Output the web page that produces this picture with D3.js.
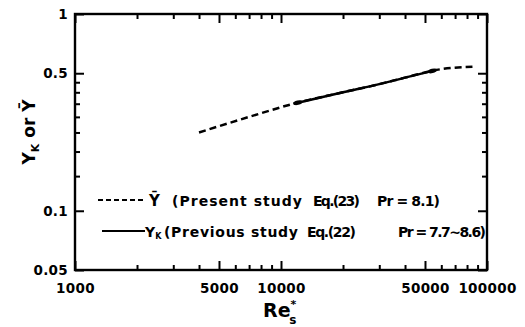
<!DOCTYPE html>
<html>
<head>
<meta charset="utf-8">
<script src="https://cdn.jsdelivr.net/npm/d3@7"></script>
<style>
  body { margin: 0; background: #fff; }
  svg { display: block; }
</style>
</head>
<body>
<svg id="chart" width="525" height="327"></svg>
<script>
// Ȳ, present study Eq.(23), Pr = 8.1
const reYbar = [4000, 7000, 11500, 20000, 30000, 40000, 57000, 85000];
const yBar   = [0.25, 0.30, 0.35, 0.40, 0.44, 0.475, 0.52, 0.54];
// Y_K, previous study Eq.(22), Pr = 7.7~8.6
const reYk = [11500, 20000, 30000, 40000, 57000];
const yK   = [0.35, 0.40, 0.44, 0.475, 0.52];

// axis ticks
const xMajor = [1000, 5000, 10000, 50000, 100000];
const xTickLabels = ["1000", "5000", "10000", "50000", "100000"];
const yMajor = [0.05, 0.1, 0.5, 1];
const yTickLabels = ["0.05", "0.1", "0.5", "1"];

const FONT = "'DejaVu Sans', sans-serif";
const svg = d3.select("#chart");
const L = 75, R = 487, T = 14, B = 270;

const x = d3.scaleLog().domain([1000, 100000]).range([L, R]);
const y = d3.scaleLog().domain([0.05, 1]).range([B, T]);

// every 1..9 multiple within each decade
function logTicks(lo, hi) {
  const out = [];
  for (let p = Math.log10(lo); p < Math.log10(hi) - 1e-9; p++) {
    for (let k = 1; k <= 9; k++) out.push(+(k * Math.pow(10, p)).toPrecision(6));
  }
  out.push(hi);
  return out.filter(v => v >= lo - 1e-12 && v <= hi + 1e-12);
}
const near = (a, b) => Math.abs(a - b) / b < 1e-6;
const xMinor = logTicks(1000, 100000).filter(v => !xMajor.some(m => near(v, m)));
const yMinor = logTicks(0.05, 1).filter(v => !yMajor.some(m => near(v, m)));

function tidy(g) {
  g.select(".domain").remove();
  g.selectAll("line").attr("stroke", "#000").attr("stroke-width", 2);
  g.selectAll("text")
    .attr("font-family", FONT)
    .attr("font-size", 13.5)
    .attr("font-weight", "bold")
    .attr("fill", "#000")
    .attr("letter-spacing", 0.3);
}

// bottom axis: ticks point up into the plot
svg.append("g").attr("transform", `translate(0,${B})`)
  .call(d3.axisBottom(x).tickValues(xMinor).tickSize(-5).tickFormat("")).call(tidy);
svg.append("g").attr("transform", `translate(0,${B})`)
  .call(d3.axisBottom(x).tickValues(xMajor).tickSize(-9).tickPadding(13)
    .tickFormat((d, i) => xTickLabels[i])).call(tidy);
// top axis: ticks point down
svg.append("g").attr("transform", `translate(0,${T})`)
  .call(d3.axisTop(x).tickValues(xMinor).tickSize(-5).tickFormat("")).call(tidy);
svg.append("g").attr("transform", `translate(0,${T})`)
  .call(d3.axisTop(x).tickValues(xMajor).tickSize(-9).tickFormat("")).call(tidy);
// left axis
svg.append("g").attr("transform", `translate(${L},0)`)
  .call(d3.axisLeft(y).tickValues(yMinor).tickSize(-5).tickFormat("")).call(tidy);
svg.append("g").attr("transform", `translate(${L},0)`)
  .call(d3.axisLeft(y).tickValues(yMajor).tickSize(-9).tickPadding(7)
    .tickFormat((d, i) => yTickLabels[i])).call(tidy);
// right axis
svg.append("g").attr("transform", `translate(${R},0)`)
  .call(d3.axisRight(y).tickValues(yMinor).tickSize(-5).tickFormat("")).call(tidy);
svg.append("g").attr("transform", `translate(${R},0)`)
  .call(d3.axisRight(y).tickValues(yMajor).tickSize(-9).tickFormat("")).call(tidy);

// plot frame
svg.append("rect")
  .attr("x", L).attr("y", T).attr("width", R - L).attr("height", B - T)
  .attr("fill", "none").attr("stroke", "#000").attr("stroke-width", 2.4);

// end blobs on the Y_K curve
const defs = svg.append("defs");
[["blobStart", 0], ["blobEnd", 9]].forEach(([id, ref]) => {
  defs.append("marker").attr("id", id)
    .attr("markerUnits", "userSpaceOnUse")
    .attr("viewBox", "0 -3 9 6").attr("markerWidth", 9).attr("markerHeight", 6)
    .attr("refX", ref).attr("refY", 0).attr("orient", "auto")
    .append("ellipse").attr("cx", 4.5).attr("cy", 0).attr("rx", 4.5).attr("ry", 2.2)
    .attr("fill", "#000");
});

const line = d3.line().x(d => x(d[0])).y(d => y(d[1])).curve(d3.curveMonotoneX);

svg.append("path")
  .datum(reYbar.map((r, i) => [r, yBar[i]]))
  .attr("d", line)
  .attr("fill", "none").attr("stroke", "#000").attr("stroke-width", 2.5)
  .attr("stroke-dasharray", "7,4");

svg.append("path")
  .datum(reYk.map((r, i) => [r, yK[i]]))
  .attr("d", line)
  .attr("fill", "none").attr("stroke", "#000").attr("stroke-width", 2.5)
  .attr("marker-start", "url(#blobStart)").attr("marker-end", "url(#blobEnd)");

// legend
function seg(x0, x1, yb, str, size) {
  return svg.append("text")
    .attr("x", x0).attr("y", yb)
    .attr("font-family", FONT).attr("font-size", size || 14)
    .attr("font-weight", "bold")
    .attr("textLength", x1 - x0).attr("lengthAdjust", "spacing")
    .text(str);
}
const lg1 = 206, lg2 = 237;
svg.append("line").attr("x1", 98).attr("x2", 146).attr("y1", lg1 - 6).attr("y2", lg1 - 6)
  .attr("stroke", "#000").attr("stroke-width", 2).attr("stroke-dasharray", "5,3");
seg(149, 162, lg1, "\u0232", 15);
seg(172, 302, lg1, "(Present study");
seg(313, 360, lg1, "Eq.(23)");
seg(377, 440, lg1, "Pr = 8.1)");

svg.append("line").attr("x1", 102).attr("x2", 145).attr("y1", lg2 - 6).attr("y2", lg2 - 6)
  .attr("stroke", "#000").attr("stroke-width", 2);
const yk = svg.append("text").attr("x", 145).attr("y", lg2)
  .attr("font-family", FONT).attr("font-size", 14).attr("font-weight", "bold");
yk.append("tspan").text("Y");
yk.append("tspan").attr("font-size", 8).attr("dy", 2).text("K");
seg(164, 298, lg2, "(Previous study");
seg(307, 356, lg2, "Eq.(22)");
seg(398, 486, lg2, "Pr = 7.7~8.6)");

// axis titles
const xt = svg.append("text").attr("x", 263).attr("y", 317)
  .attr("font-family", FONT).attr("font-size", 19).attr("font-weight", "bold");
xt.append("tspan").text("Re");
xt.append("tspan").attr("font-size", 11).attr("dy", -9).text("*");
xt.append("tspan").attr("font-size", 12).attr("dx", -7).attr("dy", 16).text("s");

const yt = svg.append("text")
  .attr("transform", "translate(35,132) rotate(-90)")
  .attr("text-anchor", "middle")
  .attr("font-family", FONT).attr("font-size", 17).attr("font-weight", "bold");
yt.append("tspan").text("Y");
yt.append("tspan").attr("font-size", 11).attr("dy", 4).text("K");
yt.append("tspan").attr("dy", -4).text(" or ");
yt.append("tspan").text("\u0232");
</script>
</body>
</html>
